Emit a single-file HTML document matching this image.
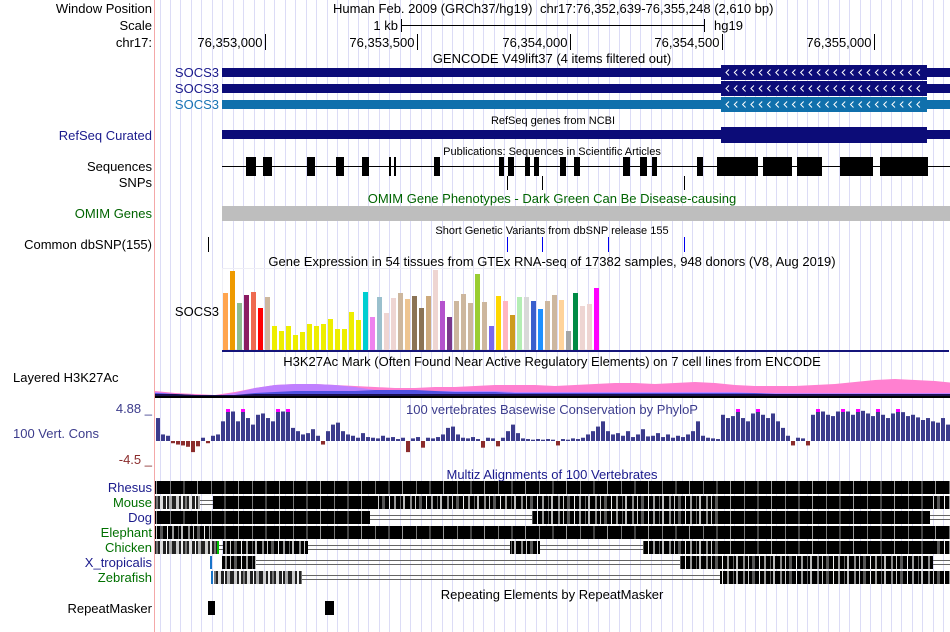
<!DOCTYPE html>
<html><head><meta charset="utf-8"><style>
html,body{margin:0;padding:0;background:#fff;}
svg{display:block;font-family:"Liberation Sans",sans-serif;}
</style></head><body>
<svg id="c" width="950" height="632" viewBox="0 0 950 632" xmlns="http://www.w3.org/2000/svg">
<defs>
<pattern id="pDark" width="41" height="13" patternUnits="userSpaceOnUse">
<rect width="41" height="13" fill="#000"/><rect x="6" width="1" height="13" fill="#777"/><rect x="19" width="2" height="13" fill="#444"/><rect x="33" width="1" height="13" fill="#999"/>
</pattern>
<pattern id="pMix" width="37" height="13" patternUnits="userSpaceOnUse">
<rect width="37" height="13" fill="#000"/><rect x="3" width="2" height="13" fill="#888"/><rect x="8" width="1" height="13" fill="#ccc"/><rect x="12" width="3" height="13" fill="#555"/><rect x="19" width="1" height="13" fill="#eee"/><rect x="24" width="2" height="13" fill="#999"/><rect x="30" width="1" height="13" fill="#666"/><rect x="33" width="2" height="13" fill="#bbb"/>
</pattern>
<pattern id="pLight" width="29" height="13" patternUnits="userSpaceOnUse">
<rect width="29" height="13" fill="#222"/><rect x="2" width="3" height="13" fill="#ccc"/><rect x="7" width="2" height="13" fill="#eee"/><rect x="11" width="2" height="13" fill="#777"/><rect x="15" width="3" height="13" fill="#ddd"/><rect x="21" width="1" height="13" fill="#fff"/><rect x="24" width="3" height="13" fill="#aaa"/>
</pattern>
</defs>
<g id="grid"></g>
<line x1="154.5" y1="0" x2="154.5" y2="632" stroke="#f4a8a8"/>

<g font-size="13" fill="#000">
<text x="152" y="13" text-anchor="end">Window Position</text>
<text x="152" y="30" text-anchor="end">Scale</text>
<text x="152" y="47" text-anchor="end">chr17:</text>
<text x="219" y="77" text-anchor="end" fill="#1a1a8c">SOCS3</text>
<text x="219" y="93" text-anchor="end" fill="#1a1a8c">SOCS3</text>
<text x="219" y="109" text-anchor="end" fill="#1874b4">SOCS3</text>
<text x="152" y="140" text-anchor="end" fill="#1a1a8c">RefSeq Curated</text>
<text x="152" y="171" text-anchor="end">Sequences</text>
<text x="152" y="187" text-anchor="end">SNPs</text>
<text x="152" y="218" text-anchor="end" fill="#006400">OMIM Genes</text>
<text x="152" y="249" text-anchor="end">Common dbSNP(155)</text>
<text x="219" y="316" text-anchor="end">SOCS3</text>
<text x="13" y="382">Layered H3K27Ac</text>
<text x="152" y="413" text-anchor="end" fill="#3c3c8c">4.88 _</text>
<text x="13" y="438" fill="#3c3c8c">100 Vert. Cons</text>
<text x="152" y="464" text-anchor="end" fill="#8b2c2c">-4.5 _</text>
<text x="152" y="492" text-anchor="end" fill="#1a1a8c">Rhesus</text>
<text x="152" y="507" text-anchor="end" fill="#007000">Mouse</text>
<text x="152" y="522" text-anchor="end" fill="#1a1a8c">Dog</text>
<text x="152" y="537" text-anchor="end" fill="#007000">Elephant</text>
<text x="152" y="552" text-anchor="end" fill="#007000">Chicken</text>
<text x="152" y="567" text-anchor="end" fill="#1a1a8c">X_tropicalis</text>
<text x="152" y="582" text-anchor="end" fill="#007000">Zebrafish</text>
<text x="152" y="613" text-anchor="end">RepeatMasker</text>
</g>

<g font-size="13">
<text x="333" y="13">Human Feb. 2009 (GRCh37/hg19)</text>
<text x="540" y="13">chr17:76,352,639-76,355,248 (2,610 bp)</text>
<text x="398" y="30" text-anchor="end">1 kb</text>
<line x1="401" y1="25.5" x2="704" y2="25.5" stroke="#000"/>
<line x1="401.5" y1="19" x2="401.5" y2="32" stroke="#000"/>
<line x1="704.5" y1="19" x2="704.5" y2="32" stroke="#000"/>
<text x="714" y="30">hg19</text>
<g id="ticks"></g>
</g>

<g font-size="13" text-anchor="middle">
<text x="552" y="63">GENCODE V49lift37 (4 items filtered out)</text>
<text x="553" y="124" font-size="11">RefSeq genes from NCBI</text>
<text x="552" y="155" font-size="11">Publications: Sequences in Scientific Articles</text>
<text x="552" y="203" fill="#006400">OMIM Gene Phenotypes - Dark Green Can Be Disease-causing</text>
<text x="552" y="234" font-size="11">Short Genetic Variants from dbSNP release 155</text>
<text x="552" y="266">Gene Expression in 54 tissues from GTEx RNA-seq of 17382 samples, 948 donors (V8, Aug 2019)</text>
<text x="552" y="366">H3K27Ac Mark (Often Found Near Active Regulatory Elements) on 7 cell lines from ENCODE</text>
<text x="552" y="414" fill="#3c3c8c">100 vertebrates Basewise Conservation by PhyloP</text>
<text x="552" y="479" fill="#1a1a8c">Multiz Alignments of 100 Vertebrates</text>
<text x="552" y="599">Repeating Elements by RepeatMasker</text>
</g>

<g>
<rect x="222" y="68" width="728" height="9" fill="#0c0c78"/>
<rect x="721" y="65" width="206" height="15" fill="#0c0c78"/>
<rect x="222" y="84" width="728" height="9" fill="#0c0c78"/>
<rect x="721" y="81" width="206" height="15" fill="#0c0c78"/>
<rect x="222" y="100" width="728" height="9" fill="#1070ac"/>
<rect x="721" y="97" width="206" height="15" fill="#1070ac"/>
<g id="arrows" stroke="#fff" fill="none" stroke-width="1"></g>
</g>
<g>
<rect x="222" y="130" width="728" height="9" fill="#0c0c78"/>
<rect x="721" y="127" width="206" height="16" fill="#0c0c78"/>
</g>
<g id="pubs">
<line x1="222" y1="166.5" x2="950" y2="166.5" stroke="#000"/>
</g>
<g id="snps"></g>
<rect x="222" y="206" width="728" height="15" fill="#bebebe"/>
<g id="dbsnp"></g>
<g id="gtex"></g>
<g id="h3k"></g>
<g id="cons"></g>
<g id="multiz"></g>
<rect x="208" y="601" width="7" height="14" fill="#000"/>
<rect x="325" y="601" width="9" height="14" fill="#000"/>
</svg>
<script>
const NS='http://www.w3.org/2000/svg';
function mk(p,t,a){const e=document.createElementNS(NS,t);for(const k in a)e.setAttribute(k,a[k]);p.appendChild(e);return e;}
// ---- data ----
const rulerTicks=[76353000,76353500,76354000,76354500,76355000];
const rulerLabels=['76,353,000','76,353,500','76,354,000','76,354,500','76,355,000'];
const pubBlocks=[[246,256],[263,272],[307,315],[336,344],[362,369],[389,391],[394,396],[434,440],[499,504],[508,514],[525,530],[534,539],[560,566],[574,580],[623,630],[640,647],[652,657],[697,703],[717,758],[763,792],[797,822],[840,873],[880,928]];
const snpPos=[507,542,684];
const dbsnpPos=[208,507,542,608,684];
const dbsnpColor=['#000','#0000ee','#0000ee','#0000ee','#0000ee'];
const gtexValues=[57,79,47,55,58,42,53,24,19,24,15,18,26,24,26,31,21,21,38,30,58,33,53,37,52,57,51,54,42,54,80,49,33,49,56,47,76,48,24,54,49,35,53,53,49,41,49,55,50,19,57,44,46,62];
const gtexColors=['#FFA54F','#EE9A00','#8FBC8F','#8B1C62','#EE6A50','#FF0000','#CDB79E','#EEEE00','#EEEE00','#EEEE00','#EEEE00','#EEEE00','#EEEE00','#EEEE00','#EEEE00','#EEEE00','#EEEE00','#EEEE00','#EEEE00','#EEEE00','#00CED1','#EE82EE','#9AC0CD','#EED5D2','#EED5D2','#CDB79E','#EEC591','#8B7355','#8B7355','#CDAA7D','#EED5D2','#B452CD','#7A378B','#CDB79E','#CDB79E','#CDB79E','#9ACD32','#CDB79E','#7B68EE','#FFD700','#FFB6C1','#CD9B1D','#B4EEB4','#D9D9D9','#3A5FCD','#1E90FF','#CDB79E','#CDB79E','#FFD39B','#A6A6A6','#008B45','#EED5D2','#EED5D2','#FF00FF'];
const h3kPink=[5,3,2,1,4,8,11,12,12,11,10,9,8,8,9,9,10,11,11,11,10,11,12,13,13,12,13,14,13,11,10,10,10,11,12,14,16,17,16,15,13];
const h3kViolet=[4,2,1,0,3,8,11,12,12,11,9,6,5,5,5,5,5,5,4,4,4,4,4,4,4,4,4,4,4,4,3,3,3,3,3,3,3,3,3,3,3];
const h3kBlue=[3,2,1,0,1,3,4,5,5,5,5,6,6,6,5,4,4,4,3,3,3,3,3,3,3,3,3,3,3,3,3,2,2,2,2,2,2,2,2,2,2];
const h3kDark=[2,2,1,1,1,2,2,2,2,2,2,2,2,2,2,2,2,2,2,2,2,2,2,2,2,2,2,2,2,2,2,2,2,2,2,2,2,2,2,2,2];
const consValues=[3.5,1,0.8,-0.5,-0.8,-1,-1.3,-2.5,-1.2,0.5,-0.5,0.8,1,3,4.88,4.5,3,4.88,3.5,2.5,4,4.2,3.5,3,4.88,4.5,4.88,2,1.5,1,1.2,1.8,0.8,-0.8,1.5,2.5,2.8,1.5,1,0.8,0.5,1.2,0.6,0.5,0.4,0.8,0.5,0.6,0.3,0.5,-2.5,0.4,0.6,-1.5,0.5,0.4,0.6,1,2,2.2,1,0.5,0.4,0.6,0.3,-1.5,0.5,0.4,-1.2,0.5,1.5,2.5,1.2,0.4,0.3,0.2,0.3,0.2,0.3,0.2,-1,0.3,0.2,0.4,0.3,0.5,1,1.5,2.2,3,1.5,1,1.2,0.8,1.5,0.6,1,1.8,0.7,0.8,1.2,0.6,1,0.5,0.8,0.6,1,1.5,3,0.8,0.5,0.4,0.3,4,3.5,3.8,4.88,3.5,3,4.2,4.88,4,3.5,4.2,3,2,0.8,-1,0.5,0.4,-1,4,4.88,4.5,4,3.8,4.5,4.88,4.5,4,4.88,4.6,4.2,3.8,4.88,4,3.5,4.2,4.88,4.4,3.8,4,3.6,3.2,3.5,3,2.8,3.5,2.5];
const species=['Rhesus','Mouse','Dog','Elephant','Chicken','X_tropicalis','Zebrafish'];
const multizSegs=[
 [[155,950,'d']],
 [[155,200,'l'],[200,213,'g'],[213,375,'d'],[375,460,'m'],[460,720,'m'],[720,930,'d'],[930,950,'m']],
 [[155,370,'d'],[370,532,'g'],[532,720,'m'],[720,930,'d'],[930,950,'g']],
 [[155,210,'m'],[210,950,'d']],
 [[155,217,'l'],[217,223,'g'],[223,308,'m'],[308,510,'g'],[510,540,'m'],[540,643,'g'],[643,720,'m'],[720,935,'d'],[935,950,'m']],
 [[222,256,'m'],[256,680,'g'],[680,715,'m'],[715,933,'m'],[933,950,'g']],
 [[214,302,'l'],[302,720,'g'],[720,950,'m']]
];
// ---- axes ----
const bpStart=76352639, bpEnd=76355248, pxL=155, pxR=950;
function xPos(bp){return pxL+(bp-bpStart+0.5)*(pxR-pxL)/(bpEnd-bpStart+1);}
const gtexX0=223, gtexStep=7, gtexBase=350, gtexScale=1.0;
function gtexY(v){return gtexBase-v*gtexScale;}
const h3kX0=155, h3kStep=20, h3kBase=396;
function h3kX(i){return h3kX0+i*h3kStep;}
const consX0=156, consStep=5, consZero=441, consPos=32/4.88, consNeg=20/4.5;
function consY(v){return v>=0?consZero-v*consPos:consZero-v*consNeg;}

// grid
const g=document.getElementById('grid');
for(let x=159.5;x<950;x+=10.45){const l=mk(g,'line',{x1:Math.round(x)+0.5,y1:0,x2:Math.round(x)+0.5,y2:632,stroke:'#dcdcf6'});

}
// ruler
const tk=document.getElementById('ticks');
rulerTicks.forEach((b,i)=>{const x=Math.round(xPos(b))+0.5;
const l=mk(tk,'line',{x1:x,y1:34,x2:x,y2:50,stroke:'#000'});


const t=mk(tk,'text',{x:x-3,y:47,'text-anchor':'end'});t.textContent=rulerLabels[i];

});
// arrows
const ar=document.getElementById('arrows');
[72.5,88.5,104.5].forEach(y=>{for(let x=726;x<922;x+=8.3){const p=mk(ar,'polyline',{points:`${x+3},${y-3} ${x},${y} ${x+3},${y+3}`});

}});
// pubs
const pb=document.getElementById('pubs');
pubBlocks.forEach(b=>{const r=mk(pb,'rect',{x:b[0],y:157,width:b[1]-b[0],height:19,fill:'#000'});

});
const sn=document.getElementById('snps');
snpPos.forEach(x=>{const l=mk(sn,'line',{x1:x+0.5,y1:176,x2:x+0.5,y2:190,stroke:'#000'});

});
const db=document.getElementById('dbsnp');
dbsnpPos.forEach((x,i)=>{const l=mk(db,'line',{x1:x+0.5,y1:237,x2:x+0.5,y2:252,stroke:dbsnpColor[i]});

});
// gtex
const gt=document.getElementById('gtex');
const fr=mk(gt,'rect',{x:222.5,y:268.5,width:377,height:81,fill:'none',stroke:'#eeeef6'});


gtexValues.forEach((v,i)=>{const y=gtexY(v);const r=mk(gt,'rect',{x:gtexX0+i*gtexStep,y:y,width:5,height:gtexBase-y,fill:gtexColors[i]});

});
const bl=mk(gt,'rect',{x:222,y:gtexBase,width:727,height:2,fill:'#14147a'});


// h3k
const hk=document.getElementById('h3k');
function area(arr,fill,name){let pts=`${h3kX(0)},${h3kBase} `;
arr.forEach((v,i)=>{pts+=`${h3kX(i)},${h3kBase-v} `;});pts+=`${h3kX(arr.length-1)},${h3kBase}`;
const p=mk(hk,'polygon',{points:pts,fill:fill});

}
area(h3kPink,'#ff80d0','h3k27ac-pink-layer');
area(h3kViolet,'#c080ff','h3k27ac-violet-layer');
area(h3kBlue,'#5050e0','h3k27ac-blue-layer');
area(h3kDark,'#1a1050','h3k27ac-dark-layer');
const hb=mk(hk,'rect',{x:155,y:h3kBase,width:795,height:2,fill:'#000'});


// conservation
const cs=document.getElementById('cons');
consValues.forEach((v,i)=>{const x=consX0+i*consStep;const y=consY(v);
const r=mk(cs,'rect',{x:x,y:Math.min(y,consZero),width:4,height:Math.abs(consZero-y),fill:v>=0?'#3c3c8c':'#8b2c2c'});


if(v>=4.8){const m=mk(cs,'rect',{x:x,y:y,width:4,height:3,fill:'#ff00ff'});

}});
// multiz
const mz=document.getElementById('multiz');
const pat={d:'url(#pDark)',m:'url(#pMix)',l:'url(#pLight)'};
multizSegs.forEach((segs,r)=>{const y=481+r*15;
segs.forEach(s=>{if(s[2]==='g'){
[4.5,8.5].forEach(o=>{const l=mk(mz,'line',{x1:s[0],y1:y+o,x2:s[1],y2:y+o,stroke:'#666'});

});
}else{const b=mk(mz,'rect',{x:s[0],y:y,width:s[1]-s[0],height:13,fill:pat[s[2]]});

}});});
[[217,541,'#00c000'],[210,556,'#1874c8'],[211,571,'#1874c8']].forEach(m=>{const r=mk(mz,'rect',{x:m[0],y:m[1],width:2,height:13,fill:m[2]});

});
</script>
</body></html>
